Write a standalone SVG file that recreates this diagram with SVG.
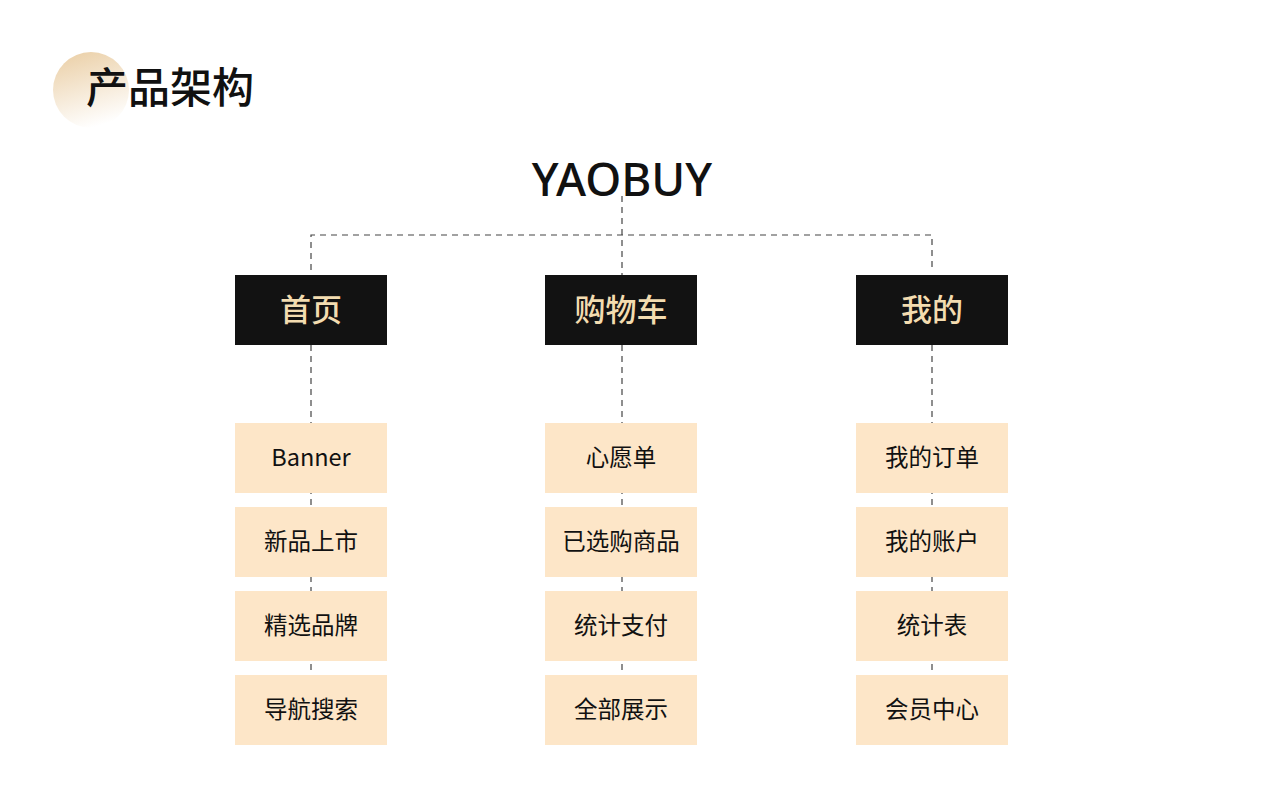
<svg xmlns="http://www.w3.org/2000/svg" width="1280" height="804" viewBox="0 0 1280 804">
<defs>
<linearGradient id="cg" x1="0.2" y1="0" x2="0.5" y2="1">
<stop offset="0" stop-color="#ebd0a8"/>
<stop offset="1" stop-color="#ffffff"/>
</linearGradient>
<style>
.ln{fill:none;stroke:#444;stroke-width:1.2;stroke-dasharray:6 5}
.dk{fill:#121212}
.lt{fill:#fde6c8}
.dt{font-family:"Noto Sans CJK SC","Noto Sans",sans-serif;font-size:31px;fill:#f3dcb0;text-anchor:middle;font-weight:500}
.tt{font-family:"Noto Sans CJK SC","Noto Sans",sans-serif;font-size:23.5px;fill:#111;text-anchor:middle}
</style>
</defs>
<rect width="1280" height="804" fill="#fff"/>
<circle cx="91" cy="90" r="38" fill="url(#cg)"/>
<text x="86" y="103" font-family="Noto Sans CJK SC,sans-serif" font-size="42" font-weight="500" fill="#111">产品架构</text>
<g id="connectors">
<path class="ln" d="M622 196 V275 M311 270 V235 H932 V270"/>
<path class="ln" d="M311 345 V745 M622 345 V745 M932 345 V745"/>
</g>
<g id="root"><text x="622" y="196" font-family="Noto Sans,sans-serif" font-size="46" font-weight="500" fill="#111" text-anchor="middle">YAOBUY</text></g>
<g id="n-home"><rect class="dk" x="235" y="275" width="152" height="70"/><text class="dt" x="311" y="321">首页</text></g>
<g id="n-cart"><rect class="dk" x="545" y="275" width="152" height="70"/><text class="dt" x="621" y="321">购物车</text></g>
<g id="n-me"><rect class="dk" x="856" y="275" width="152" height="70"/><text class="dt" x="932" y="321">我的</text></g>
<g id="h1"><rect class="lt" x="235" y="423" width="152" height="70"/><text class="tt" x="311" y="466">Banner</text></g>
<g id="h2"><rect class="lt" x="235" y="507" width="152" height="70"/><text class="tt" x="311" y="550">新品上市</text></g>
<g id="h3"><rect class="lt" x="235" y="591" width="152" height="70"/><text class="tt" x="311" y="634">精选品牌</text></g>
<g id="h4"><rect class="lt" x="235" y="675" width="152" height="70"/><text class="tt" x="311" y="718">导航搜索</text></g>
<g id="c1"><rect class="lt" x="545" y="423" width="152" height="70"/><text class="tt" x="621" y="466">心愿单</text></g>
<g id="c2"><rect class="lt" x="545" y="507" width="152" height="70"/><text class="tt" x="621" y="550">已选购商品</text></g>
<g id="c3"><rect class="lt" x="545" y="591" width="152" height="70"/><text class="tt" x="621" y="634">统计支付</text></g>
<g id="c4"><rect class="lt" x="545" y="675" width="152" height="70"/><text class="tt" x="621" y="718">全部展示</text></g>
<g id="m1"><rect class="lt" x="856" y="423" width="152" height="70"/><text class="tt" x="932" y="466">我的订单</text></g>
<g id="m2"><rect class="lt" x="856" y="507" width="152" height="70"/><text class="tt" x="932" y="550">我的账户</text></g>
<g id="m3"><rect class="lt" x="856" y="591" width="152" height="70"/><text class="tt" x="932" y="634">统计表</text></g>
<g id="m4"><rect class="lt" x="856" y="675" width="152" height="70"/><text class="tt" x="932" y="718">会员中心</text></g>
</svg>
